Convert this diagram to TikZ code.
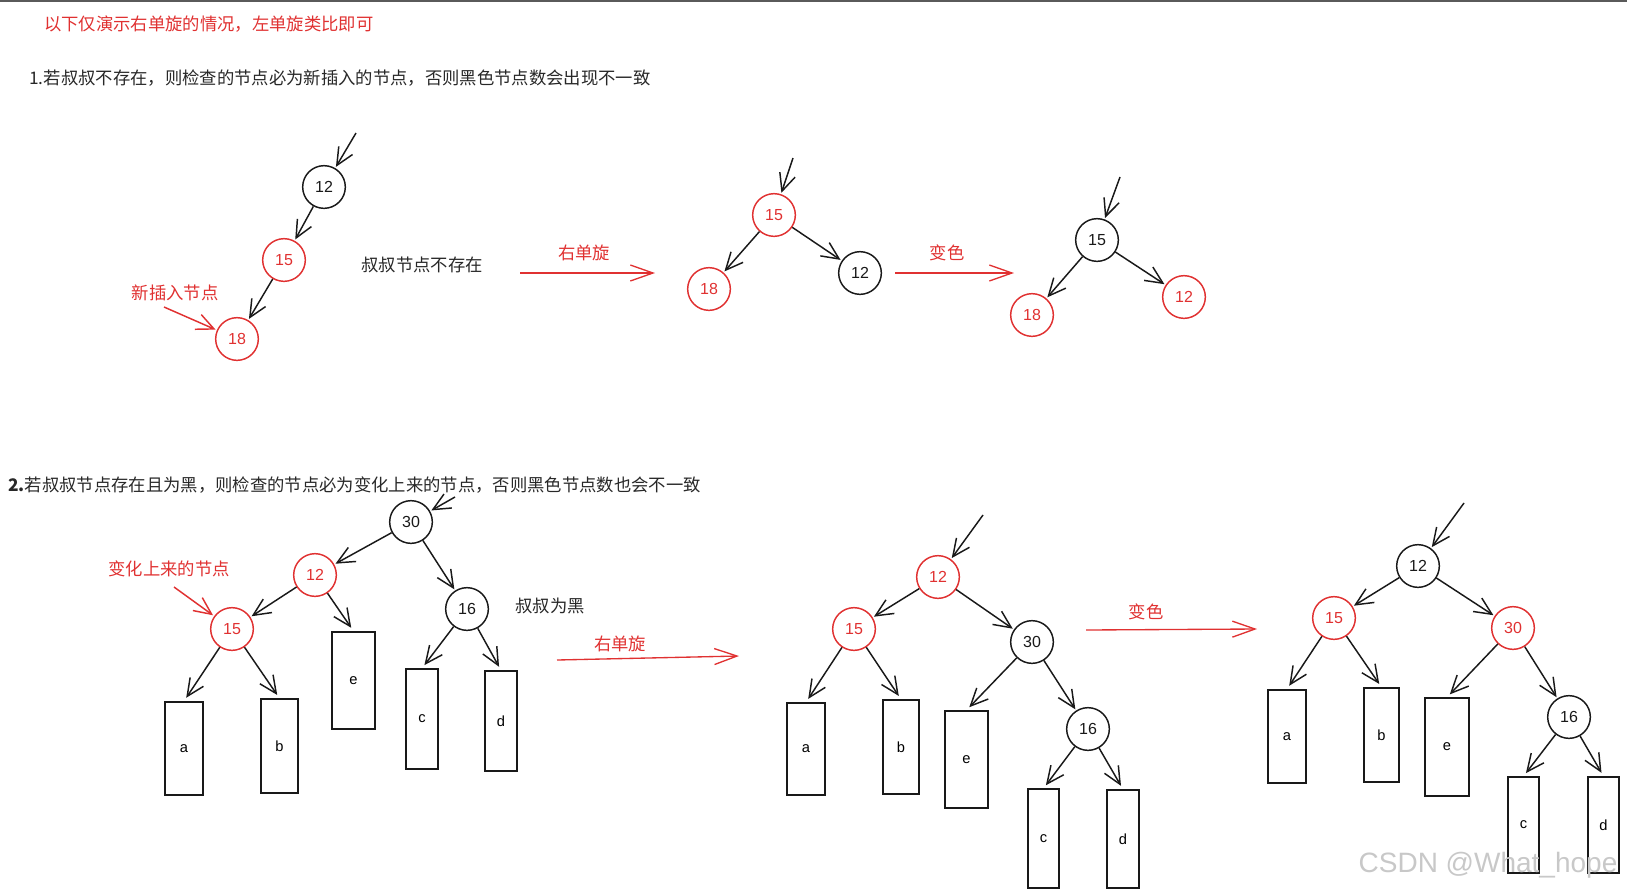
\documentclass[tikz,border=0pt]{standalone}
\usepackage{fontspec}
\setmainfont{Liberation Sans}
\newfontfamily\cjk{Noto Sans CJK SC}
\usepackage{xcolor}
\usepackage{tikz}
\usetikzlibrary{
    positioning,
    arrows.meta,
}
\definecolor{inkred}{RGB}{224,49,49}
\definecolor{inkblack}{RGB}{25,25,25}
\definecolor{inktext}{RGB}{40,40,40}
\definecolor{rulegray}{RGB}{90,90,90}
\definecolor{markgray}{RGB}{200,200,200}
\tikzset{
    % Tree node styles
    rb node/.style={circle, draw, minimum size=32pt, inner sep=0pt, line width=1.1pt,
                    font=\fontsize{12}{12}\selectfont},
    black node/.style={rb node, draw=inkblack, text=inkblack},
    red node/.style={rb node, draw=inkred, text=inkred},
    subtree/.style n args={2}{rectangle, draw=inkblack, line width=1.1pt, inner sep=0pt,
                    minimum width=#1, minimum height=#2, font=\fontsize{11}{11}\selectfont},
    % Arrow styles
    tree arrow/.style={-{Straight Barb[length=13pt, width=12pt, line width=1.1pt]}, line width=1.1pt,
                       inkblack, shorten >=1pt},
    leaf arrow/.style={tree arrow, shorten >=3pt},
    hint arrow/.style={tree arrow, inkred},
    step arrow/.style={-{Straight Barb[length=17pt, width=12pt, line width=1pt]}, line width=1pt, inkred},
    % Text styles
    note/.style={font=\cjk\fontsize{13}{13}\selectfont, text=inktext, inner sep=0pt},
    red note/.style={note, text=inkred},
}

\begin{document}
\begin{tikzpicture}[x=0.75pt, y=-0.75pt]
    \useasboundingbox (0,0) rectangle (1627,893);
    \draw[rulegray, line width=1pt] (0,1) -- (1627,1);

    % Headings
    \node[red note, anchor=west] (intro) at (44,24) {以下仅演示右单旋的情况，左单旋类比即可};
    \node[note, anchor=west] (caseone) at (29,78) {1.若叔叔不存在，则检查的节点必为新插入的节点，否则黑色节点数会出现不一致};

    % Case 1: before rotation
    \node[black node] (P12) at (324,187) {12};
    \node[red node] (P15) at (284,260) {15};
    \node[red node] (P18) at (237,339) {18};
    \coordinate (Pin) at (356,133);
    \draw[tree arrow] (Pin) -- (P12);
    \draw[tree arrow] (P12) -- (P15);
    \draw[tree arrow] (P15) -- (P18);
    \node[red note] (newlabel) at (175,293) {新插入节点};
    \coordinate (newtail) at (164,307);
    \draw[hint arrow] (newtail) -- (P18);
    \node[note] (nouncle) at (422,265) {叔叔节点不存在};

    % Right rotation
    \node[red note] (rotone) at (584,253) {右单旋};
    \coordinate (rotoneA) at (520,273);
    \coordinate (rotoneB) at (655,273);
    \draw[step arrow] (rotoneA) -- (rotoneB);

    % Case 1: after rotation
    \node[red node] (Q15) at (774,215) {15};
    \node[red node] (Q18) at (709,289) {18};
    \node[black node] (Q12) at (860,273) {12};
    \coordinate (Qin) at (793,158);
    \draw[tree arrow] (Qin) -- (Q15);
    \draw[tree arrow] (Q15) -- (Q18);
    \draw[tree arrow] (Q15) -- (Q12);

    % Recolour
    \node[red note] (recolone) at (947,253) {变色};
    \coordinate (recoloneA) at (895,273);
    \coordinate (recoloneB) at (1014,273);
    \draw[step arrow] (recoloneA) -- (recoloneB);

    % Case 1: after recolour
    \node[black node] (R15) at (1097,240) {15};
    \node[red node] (R18) at (1032,315) {18};
    \node[red node] (R12) at (1184,297) {12};
    \coordinate (Rin) at (1120,177);
    \draw[tree arrow] (Rin) -- (R15);
    \draw[tree arrow] (R15) -- (R18);
    \draw[tree arrow] (R15) -- (R12);

    % Case 2 heading
    \node[note, anchor=west] (casetwo) at (8,485) {\textbf{2.}若叔叔节点存在且为黑，则检查的节点必为变化上来的节点，否则黑色节点数也会不一致};

    % Case 2: before rotation
    \node[black node] (A30) at (411,522) {30};
    \node[red node] (A12) at (315,575) {12};
    \node[black node] (A16) at (467,609) {16};
    \node[red node] (A15) at (232,629) {15};
    \node[subtree={28.5pt}{70pt}] (Aa) at (184,748.5) {a};
    \node[subtree={27.5pt}{70.5pt}] (Ab) at (279.5,746) {b};
    \node[subtree={32pt}{73pt}] (Ae) at (353.5,680.5) {e};
    \node[subtree={24pt}{75pt}] (Ac) at (422,719) {c};
    \node[subtree={24pt}{75pt}] (Ad) at (501,721) {d};
    \coordinate (Ain) at (455,497);
    \draw[tree arrow] (Ain) -- (A30);
    \draw[tree arrow] (A30) -- (A12);
    \draw[tree arrow] (A30) -- (A16);
    \draw[tree arrow] (A12) -- (A15);
    \draw[leaf arrow] (A12) -- (Ae.north);
    \draw[leaf arrow] (A15) -- (Aa.north);
    \draw[leaf arrow] (A15) -- (Ab.north);
    \draw[leaf arrow] (A16) -- (Ac.north);
    \draw[leaf arrow] (A16) -- (Ad.north);
    \node[red note] (uplabel) at (169,569) {变化上来的节点};
    \coordinate (uptail) at (174,587);
    \draw[hint arrow] (uptail) -- (A15);
    \node[note] (blackuncle) at (550,606) {叔叔为黑};

    % Right rotation
    \node[red note] (rottwo) at (620,644) {右单旋};
    \coordinate (rottwoA) at (557,660);
    \coordinate (rottwoB) at (739,656);
    \draw[step arrow] (rottwoA) -- (rottwoB);

    % Case 2: after rotation
    \node[red node] (B12) at (938,577) {12};
    \node[red node] (B15) at (854,629) {15};
    \node[black node] (B30) at (1032,642) {30};
    \node[black node] (B16) at (1088,729) {16};
    \node[subtree={28.5pt}{69pt}] (Ba) at (806,749) {a};
    \node[subtree={27pt}{70.5pt}] (Bb) at (901,747) {b};
    \node[subtree={32pt}{73pt}] (Be) at (966.5,759.5) {e};
    \node[subtree={23pt}{74pt}] (Bc) at (1043.5,838.5) {c};
    \node[subtree={24pt}{73.5pt}] (Bd) at (1123,839) {d};
    \coordinate (Bin) at (983,515);
    \draw[tree arrow] (Bin) -- (B12);
    \draw[tree arrow] (B12) -- (B15);
    \draw[tree arrow] (B12) -- (B30);
    \draw[tree arrow] (B30) -- (B16);
    \draw[leaf arrow] (B15) -- (Ba.north);
    \draw[leaf arrow] (B15) -- (Bb.north);
    \draw[leaf arrow] (B30) -- (Be.north);
    \draw[leaf arrow] (B16) -- (Bc.north);
    \draw[leaf arrow] (B16) -- (Bd.north);

    % Recolour
    \node[red note] (recoltwo) at (1146,612) {变色};
    \coordinate (recoltwoA) at (1086,630);
    \coordinate (recoltwoB) at (1257,629);
    \draw[step arrow] (recoltwoA) -- (recoltwoB);

    % Case 2: after recolour
    \node[black node] (C12) at (1418,566) {12};
    \node[red node] (C15) at (1334,618) {15};
    \node[red node] (C30) at (1513,628) {30};
    \node[black node] (C16) at (1569,717) {16};
    \node[subtree={28.5pt}{70pt}] (Ca) at (1287,736.5) {a};
    \node[subtree={26pt}{70.5pt}] (Cb) at (1381.5,735) {b};
    \node[subtree={33pt}{73.5pt}] (Ce) at (1447,747) {e};
    \node[subtree={23pt}{72pt}] (Cc) at (1523.5,825) {c};
    \node[subtree={23pt}{72pt}] (Cd) at (1603.5,825) {d};
    \coordinate (Cin) at (1464,503);
    \draw[tree arrow] (Cin) -- (C12);
    \draw[tree arrow] (C12) -- (C15);
    \draw[tree arrow] (C12) -- (C30);
    \draw[tree arrow] (C30) -- (C16);
    \draw[leaf arrow] (C15) -- (Ca.north);
    \draw[leaf arrow] (C15) -- (Cb.north);
    \draw[leaf arrow] (C30) -- (Ce.north);
    \draw[leaf arrow] (C16) -- (Cc.north);
    \draw[leaf arrow] (C16) -- (Cd.north);

    % Watermark
    \node[text=markgray, font=\fontsize{21}{21}\selectfont] (mark) at (1488,865) {CSDN @What\_hope};
\end{tikzpicture}
\end{document}
